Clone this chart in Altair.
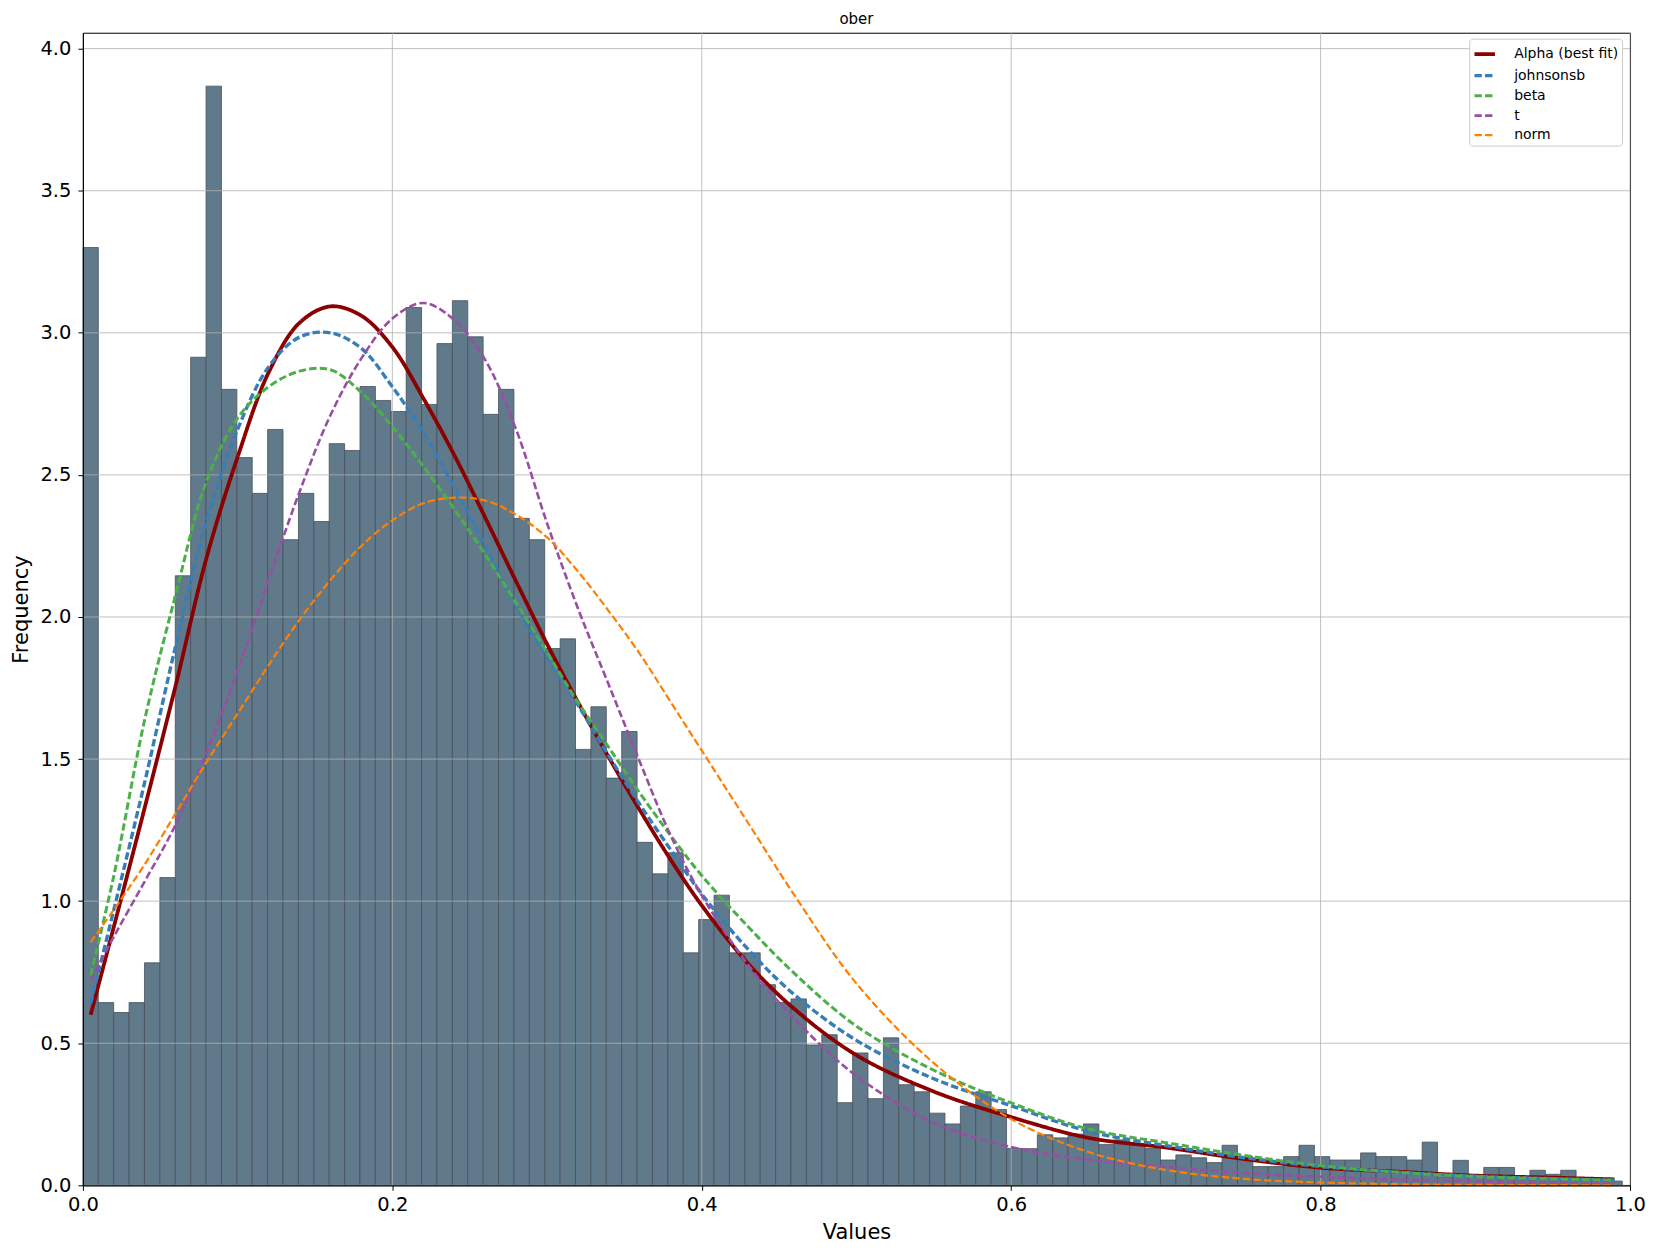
import altair as alt
import pandas as pd

# ---------------- data ----------------
BIN_WIDTH = 0.00995
HEIGHTS = [
    3.30, 0.643, 0.608, 0.643, 0.783, 1.083, 2.145, 2.914, 3.868, 2.801,
    2.561, 2.435, 2.660, 2.272, 2.435, 2.336, 2.610, 2.586, 2.811, 2.762,
    2.723, 3.089, 2.748, 2.962, 3.113, 2.986, 2.713, 2.801, 2.347, 2.272,
    1.889, 1.923, 1.534, 1.684, 1.433, 1.597, 1.207, 1.096, 1.170, 0.818,
    0.935, 1.021, 0.818, 0.818, 0.706, 0.643, 0.656, 0.494, 0.530, 0.291,
    0.466, 0.305, 0.519, 0.354, 0.329, 0.254, 0.216, 0.279, 0.329, 0.267,
    0.130, 0.129, 0.178, 0.167, 0.180, 0.216, 0.144, 0.160, 0.142, 0.130,
    0.089, 0.107, 0.097, 0.080, 0.141, 0.101, 0.066, 0.066, 0.101, 0.141,
    0.101, 0.089, 0.089, 0.114, 0.101, 0.101, 0.089, 0.152, 0.030, 0.088,
    0.030, 0.063, 0.063, 0.025, 0.053, 0.039, 0.053, 0.020, 0.020, 0.015,
]

CURVE_X = [0.005, 0.02, 0.04, 0.06, 0.08, 0.10, 0.12, 0.14, 0.16, 0.18,
           0.20, 0.22, 0.24, 0.26, 0.28, 0.30, 0.32, 0.34, 0.36, 0.38,
           0.40, 0.43, 0.46, 0.50, 0.55, 0.60, 0.65, 0.70, 0.75, 0.80,
           0.85, 0.90, 0.95, 0.99]
ALPHA = [0.60, 0.91, 1.33, 1.76, 2.21, 2.563, 2.86, 3.035, 3.093, 3.06,
         2.95, 2.77, 2.57, 2.35, 2.125, 1.905, 1.70, 1.505, 1.32, 1.145,
         0.985, 0.78, 0.62, 0.458, 0.33, 0.24, 0.167, 0.133, 0.093, 0.062,
         0.048, 0.034, 0.027, 0.021]
JOHNSONSB = [0.64, 0.97, 1.42, 1.90, 2.34, 2.66, 2.88, 2.985, 3.00, 2.945,
             2.81, 2.65, 2.455, 2.25, 2.04, 1.86, 1.69, 1.51, 1.34, 1.18,
             1.025, 0.83, 0.67, 0.51, 0.375, 0.28, 0.19, 0.14, 0.098, 0.066,
             0.046, 0.032, 0.023, 0.018]
BETA = [0.74, 1.09, 1.64, 2.08, 2.48, 2.70, 2.81, 2.865, 2.87, 2.79,
        2.67, 2.53, 2.38, 2.22, 2.05, 1.875, 1.70, 1.54, 1.38, 1.23,
        1.09, 0.91, 0.745, 0.56, 0.405, 0.29, 0.198, 0.15, 0.106, 0.069,
        0.046, 0.031, 0.023, 0.018]
T_DIST = [0.72, 0.875, 1.07, 1.27, 1.525, 1.81, 2.13, 2.44, 2.71, 2.91,
          3.05, 3.105, 3.045, 2.905, 2.66, 2.33, 2.03, 1.76, 1.49, 1.23,
          1.02, 0.775, 0.585, 0.385, 0.22, 0.135, 0.09, 0.065, 0.044, 0.030,
          0.020, 0.014, 0.010, 0.008]
NORM = [0.855, 0.97, 1.13, 1.31, 1.49, 1.66, 1.83, 1.99, 2.13, 2.25,
        2.34, 2.40, 2.42, 2.41, 2.36, 2.28, 2.16, 2.02, 1.87, 1.70,
        1.53, 1.275, 1.02, 0.71, 0.43, 0.233, 0.117, 0.054, 0.023, 0.010,
        0.004, 0.0015, 0.0005, 0.0002]

SERIES = ["Alpha (best fit)", "johnsonsb", "beta", "t", "norm"]
SERIES_VALUES = [ALPHA, JOHNSONSB, BETA, T_DIST, NORM]
COLORS = ["#8b0000", "#377eb8", "#4daf4a", "#984ea3", "#ff7f00"]
DASHES = [[1, 0], [7.4, 3.2], [7.4, 3.2], [7.4, 3.2], [7.4, 3.2]]
WIDTHS = [3.8, 2.2, 2.2, 2.2, 2.2]

X_TICKS = [0.0, 0.2, 0.4, 0.6, 0.8, 1.0]
Y_TICKS = [0.0, 0.5, 1.0, 1.5, 2.0, 2.5, 3.0, 3.5, 4.0]

TITLE = "ober"
X_TITLE = "Values"
Y_TITLE = "Frequency"

# ---------------- tables ----------------
bars_df = pd.DataFrame({
    "start": [i * BIN_WIDTH for i in range(len(HEIGHTS))],
    "end": [(i + 1) * BIN_WIDTH for i in range(len(HEIGHTS))],
    "height": HEIGHTS,
})

rows = []
for name, vals in zip(SERIES, SERIES_VALUES):
    for x, y in zip(CURVE_X, vals):
        rows.append({"x": x, "y": y, "series": name})
curve_df = pd.DataFrame(rows)

FONT = "DejaVu Sans"
GRID = "#b0b0b0"

xscale = alt.Scale(domain=[0, 1], nice=False, zero=False)
yscale = alt.Scale(domain=[0, 4.056], nice=False)

xaxis = alt.Axis(values=X_TICKS, format=".1f", title=X_TITLE, grid=False,
                 labelFlush=False, labelPadding=5, titlePadding=8,
                 tickSize=5, zindex=1)
yaxis = alt.Axis(values=Y_TICKS, format=".1f", title=Y_TITLE, grid=False,
                 labelFlush=False, labelPadding=7, titlePadding=8,
                 tickSize=5, zindex=1)

bars = alt.Chart(bars_df).mark_rect(
    fill="#607a8b", stroke="#46505a", strokeWidth=0.8
).encode(
    x=alt.X("start:Q", scale=xscale, axis=xaxis),
    x2="end:Q",
    y=alt.Y("height:Q", scale=yscale, axis=yaxis),
    y2=alt.datum(0),
)

vgrid = alt.Chart(pd.DataFrame({"v": X_TICKS})).mark_rule(
    color=GRID, strokeWidth=0.8
).encode(x=alt.X("v:Q", scale=xscale, axis=xaxis))

hgrid = alt.Chart(pd.DataFrame({"v": Y_TICKS})).mark_rule(
    color=GRID, strokeWidth=0.8
).encode(y=alt.Y("v:Q", scale=yscale, axis=yaxis))

legend = alt.Legend(
    title=None, orient="none", legendX=1388, legendY=6,
    symbolType="stroke", symbolSize=420, labelFont=FONT, labelFontSize=14,
    labelColor="black", strokeColor="#cccccc", fillColor="white",
    padding=3, cornerRadius=3, rowPadding=1, labelOffset=17,
)

lines = alt.Chart(curve_df).mark_line(interpolate="catmull-rom").encode(
    x=alt.X("x:Q", scale=xscale, axis=xaxis),
    y=alt.Y("y:Q", scale=yscale, axis=yaxis),
    color=alt.Color("series:N", scale=alt.Scale(domain=SERIES, range=COLORS),
                    legend=legend, sort=SERIES),
    strokeDash=alt.StrokeDash("series:N",
                              scale=alt.Scale(domain=SERIES, range=DASHES),
                              legend=legend, sort=SERIES),
    strokeWidth=alt.StrokeWidth("series:N",
                                scale=alt.Scale(domain=SERIES, range=WIDTHS),
                                legend=legend, sort=SERIES),
)

chart = alt.layer(bars, vgrid, hgrid, lines).properties(
    width=1549,
    height=1154,
    title=alt.TitleParams(TITLE, font=FONT, fontSize=15, fontWeight="normal",
                          anchor="middle", offset=5, color="black"),
    autosize=alt.AutoSizeParams(type="none"),
    padding={"left": 75, "top": 24, "right": 20, "bottom": 60},
).configure_view(
    stroke="black", strokeWidth=1
).configure_axis(
    labelFont=FONT, titleFont=FONT, labelFontSize=19.5, titleFontSize=21,
    titleFontWeight="normal", labelColor="black", titleColor="black",
    tickColor="black", domainColor="black", domainWidth=1, tickWidth=1,
)

chart.save("out.html", embed_options={"renderer": "svg", "actions": False})
